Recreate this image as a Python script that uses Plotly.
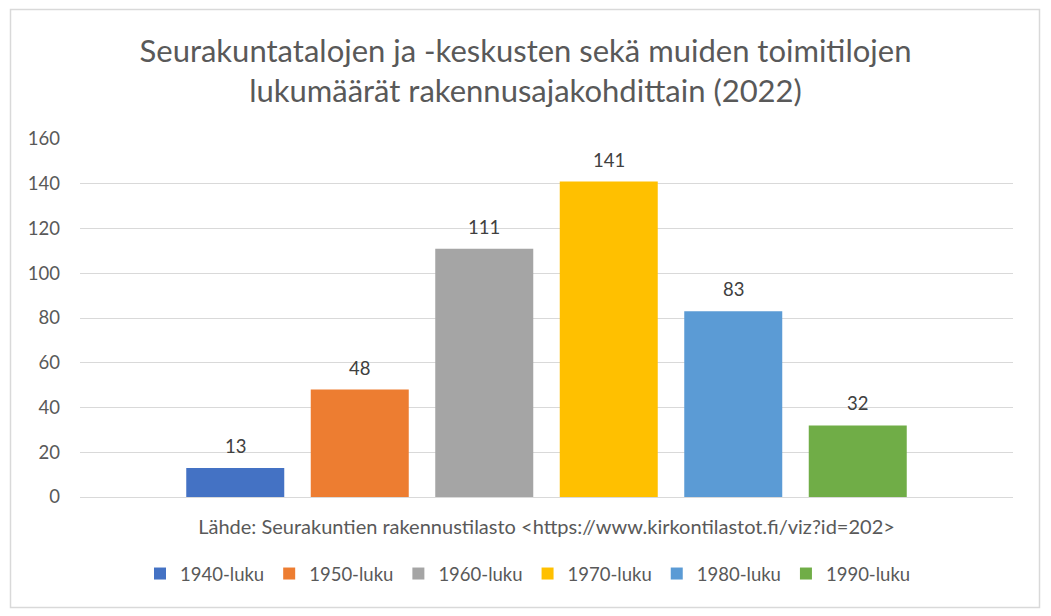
import plotly.graph_objects as go

categories = ["1940-luku", "1950-luku", "1960-luku", "1970-luku", "1980-luku", "1990-luku"]
values = [13, 48, 111, 141, 83, 32]
colors = ["#4472C4", "#ED7D31", "#A5A5A5", "#FFC000", "#5B9BD5", "#70AD47"]
y_ticks = [0, 20, 40, 60, 80, 100, 120, 140, 160]
title_text = "Seurakuntatalojen ja -keskusten sekä muiden toimitilojen<br>lukumäärät rakennusajakohdittain (2022)"
source_text = "Lähde: Seurakuntien rakennustilasto <https://www.kirkontilastot.fi/viz?id=202>"

FONT = "Lato"
GRAY = "#595959"

W, H = 1051, 616
L, R, T, B = 80, 38, 139, 119
pw, ph = W - L - R, H - T - B

# bar slot spacing 124.5px, bar width 98px
slot_px = 124.5
span_units = pw / slot_px
center = (len(categories) - 1) / 2
x_range = [center - span_units / 2, center + span_units / 2]
bar_w = 98 / slot_px

fig = go.Figure()
for i, (cat, val, col) in enumerate(zip(categories, values, colors)):
    fig.add_trace(go.Bar(
        x=[i], y=[val], name=cat, marker_color=col, marker_line_width=0,
        width=bar_w, hoverinfo="name+y",
    ))
    fig.add_annotation(x=i, y=val, text=str(val), showarrow=False,
                       xref="x", yref="y", yanchor="middle", yshift=22,
                       font=dict(family=FONT, size=18.5, color="#404040"))


def px_x(x):
    return (x - L) / pw


def px_y(y):
    return (H - B - y) / ph


fig.update_layout(
    width=W, height=H,
    margin=dict(l=L, r=R, t=T, b=B),
    paper_bgcolor="white", plot_bgcolor="white",
    barmode="overlay",
    title=dict(text=title_text, x=0.5, xanchor="center", y=1 - 62 / H, yanchor="middle",
               font=dict(family=FONT, size=31, color=GRAY)),
    font=dict(family=FONT, color=GRAY),
    xaxis=dict(range=x_range, showticklabels=False, showline=False, ticks="", showgrid=False,
               zeroline=False,
               title=dict(text=source_text, font=dict(family=FONT, size=20, color=GRAY), standoff=22)),
    yaxis=dict(range=[0, 160], tickvals=y_ticks, showgrid=True, gridcolor="#D9D9D9", gridwidth=1,
               zeroline=True, zerolinecolor="#D9D9D9", zerolinewidth=1,
               tickfont=dict(family=FONT, size=18.5, color=GRAY), ticks="", ticklabelstandoff=19),
    legend=dict(orientation="h", x=px_x(528), xanchor="center", y=px_y(574), yanchor="middle",
                font=dict(family=FONT, size=18.5, color=GRAY), itemwidth=30,
                traceorder="normal"),
    showlegend=True,
    shapes=[dict(type="rect", xref="paper", yref="paper",
                 x0=px_x(10.5), x1=px_x(1039.5), y0=px_y(607.5), y1=px_y(9.5),
                 line=dict(color="#D9D9D9", width=1.5), fillcolor="rgba(0,0,0,0)", layer="below")],
)

fig.write_html("out.html", config={"displayModeBar": False},
               post_script="document.body.style.margin='0';document.body.style.overflow='hidden';")
